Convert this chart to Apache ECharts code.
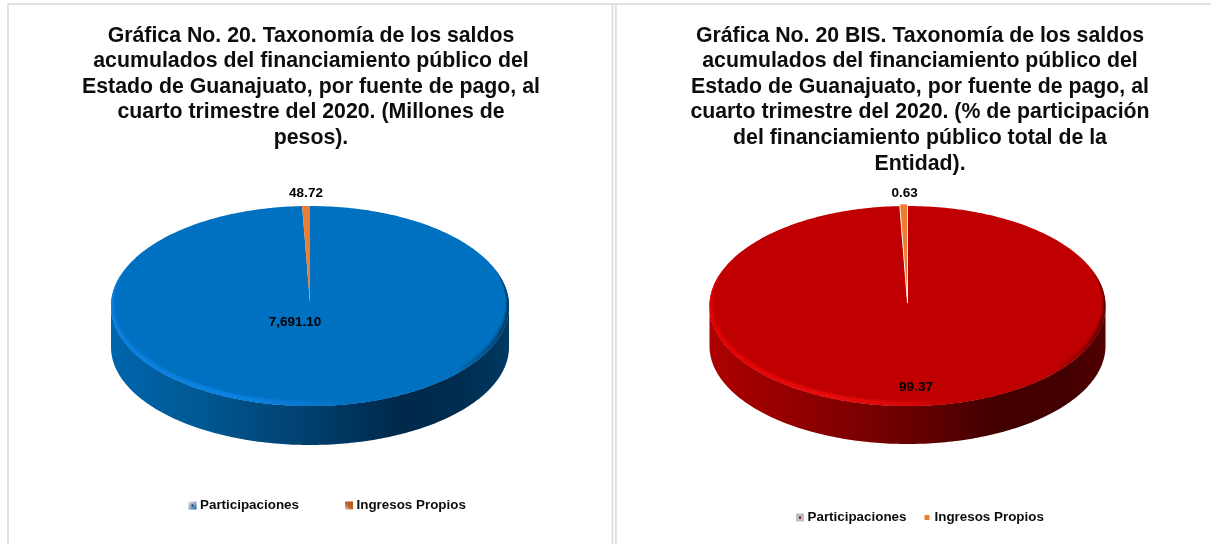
<!DOCTYPE html>
<html><head><meta charset="utf-8">
<style>html,body{margin:0;padding:0;background:#fff}#c{width:1211px;height:544px}</style>
<script src="https://cdn.jsdelivr.net/npm/echarts@6/dist/echarts.min.js"></script>
</head><body><div id="c"></div>
<script>
var categories = ['Participaciones', 'Ingresos Propios'];
var amounts = [7691.10, 48.72];
var shares = [99.37, 0.63];
var amountLabels = ['7,691.10', '48.72'];
var shareLabels = ['99.37', '0.63'];
var title1 = 'Gráfica No. 20. Taxonomía de los saldos\nacumulados del financiamiento público del\nEstado de Guanajuato, por fuente de pago, al\ncuarto trimestre del 2020. (Millones de\npesos).';
var title2 = 'Gráfica No. 20 BIS. Taxonomía de los saldos\nacumulados del financiamiento público del\nEstado de Guanajuato, por fuente de pago, al\ncuarto trimestre del 2020. (% de participación\ndel financiamiento público total de la\nEntidad).';

var FONT = '"Liberation Sans", Arial, sans-serif';
var G = echarts.graphic;
function hGrad(stops){return new G.LinearGradient(0,0,1,0,stops.map(function(s){return {offset:s[0],color:s[1]};}));}

var panels = [
 {cx:310,cy:306,rx:199,ry:100,apexY:303,depth:41,ryB:98,lift:0,top:'#0070C0',labelPos:[[295,322],[306,193]],
  values:amounts,labels:amountLabels,edge:null,
  wall:[[0,'#0066AE'],[0.25,'#00568F'],[0.5,'#003F6E'],[0.72,'#00294A'],[0.88,'#002C4F'],[1,'#003A63']],
  rim:[[0,'#0A80E0'],[0.3,'#0C84E6'],[0.5,'#0878D0'],[0.6,'#0070C0'],[0.86,'#0070C0'],[0.95,'#00508A'],[1,'#00355E']]},
 {cx:907.5,cy:306,rx:198,ry:100,apexY:305,depth:40,ryB:98,lift:2,top:'#C00000',labelPos:[[916,387],[904.7,193]],
  values:shares,labels:shareLabels,edge:'#FFFFFF',
  wall:[[0,'#AE0000'],[0.25,'#8E0000'],[0.5,'#6A0000'],[0.72,'#420000'],[0.9,'#420000'],[1,'#520000']],
  rim:[[0,'#E60000'],[0.3,'#EA0C0C'],[0.5,'#D80808'],[0.6,'#C00000'],[0.86,'#C00000'],[0.95,'#8A0000'],[1,'#5A0000']]}
];

function arc(p,cy,ry,a0,a1){ // angles in degrees, clockwise from top
  var pts=[],n=Math.max(2,Math.ceil(Math.abs(a1-a0)));
  for(var i=0;i<=n;i++){var a=(a0+(a1-a0)*i/n)*Math.PI/180;pts.push([p.cx+p.rx*Math.sin(a),cy-ry*Math.cos(a)]);}
  return pts;
}
function crescent(p,a0,a1,tx,ty){
  var outer=arc(p,p.cy,p.ry,a0,a1),inner=[],n=a1-a0;
  for(var d=n;d>=0;d--){
    var a=(a0+d)*Math.PI/180,f=Math.pow(Math.sin(Math.PI*d/n),0.6);
    inner.push([p.cx+(p.rx-tx*f)*Math.sin(a),p.cy-1.5*f-(p.ry-ty*f)*Math.cos(a)]);
  }
  return outer.concat(inner);
}
function sliceSeries(panel,idx){
  var total=panel.values[0]+panel.values[1];
  var start=idx===0?0:panel.values[0]/total*360;
  var end=idx===0?panel.values[0]/total*360:360;
  return {
    type:'custom',name:categories[idx],coordinateSystem:'none',silent:true,
    data:[[panel.values[idx]]],
    renderItem:function(params,api){
      var kids=[];
      if(idx===0){
        var lower=arc(panel,panel.cy,panel.ry,90,270);
        var lowerB=arc(panel,panel.cy+panel.depth,panel.ryB,270,90);
        kids.push({type:'polygon',shape:{points:lower.concat(lowerB)},style:{fill:hGrad(panel.wall)}});
      }
      var lift=idx===0?0:panel.lift;
      var face=[[panel.cx,panel.apexY-lift]].concat(arc(panel,panel.cy-lift,panel.ry,start,end));
      kids.push({type:'polygon',shape:{points:face},style:{
        fill:idx===0?panel.top:'#ED7D31',
        stroke:idx===1&&panel.edge?panel.edge:null,lineWidth:idx===1&&panel.edge?0.8:0}});
      if(idx===0){
        kids.push({type:'polygon',shape:{points:crescent(panel,68,292,7,4)},style:{fill:hGrad(panel.rim),opacity:0.45}});
        kids.push({type:'polygon',shape:{points:crescent(panel,72,288,4,2.5)},style:{fill:hGrad(panel.rim),opacity:0.9}});
      }
      kids.push({type:'text',x:panel.labelPos[idx][0],y:panel.labelPos[idx][1],style:{
        text:panel.labels[idx],fill:'#000',font:'bold 13.5px '+FONT,align:'center',verticalAlign:'middle'}});
      return {type:'group',children:kids};
    }
  };
}
var series=[];
panels.forEach(function(p){series.push(sliceSeries(p,0));series.push(sliceSeries(p,1));});

function titleOf(text,x){return {text:text,left:x,top:18,textAlign:'center',textStyle:{
  fontFamily:FONT,fontWeight:'bold',fontSize:21.3,lineHeight:25.6,color:'#0d0d0d'}};}

function line(x1,y1,x2,y2){return {type:'line',silent:true,z:-1,shape:{x1:x1,y1:y1,x2:x2,y2:y2},style:{stroke:'#DCDCDC',lineWidth:1.7}};}

var legendText={fontFamily:FONT,fontWeight:'bold',fontSize:13.4,color:'#0d0d0d'};
var option={
 animation:false,backgroundColor:'#fff',
 title:[titleOf(title1,306),titleOf(title2,915)],
 legend:[
  {left:183.5,top:494,itemWidth:5,itemHeight:5,itemGap:46,selectedMode:false,textStyle:legendText,
   data:[{name:categories[0],icon:'rect',itemStyle:{color:'#003F70',borderWidth:3,borderColor:new G.LinearGradient(0,0,1,1,[{offset:0,color:'#E0E0E0'},{offset:0.55,color:'#8FA6BC'},{offset:1,color:'#0F5F9E'}])}},
         {name:categories[1],icon:'rect',itemStyle:{color:'#B85A20',borderWidth:3,borderColor:new G.LinearGradient(0,1,1,0,[{offset:0,color:'#CFCFCF'},{offset:0.45,color:'#C8662A'},{offset:1,color:'#9A4E1C'}])}}]},
  {left:791,top:506,itemWidth:5,itemHeight:5,itemGap:18,selectedMode:false,textStyle:legendText,
   data:[{name:categories[0],icon:'rect',itemStyle:{color:'#7A0008',borderColor:'#BEBEBE',borderWidth:3}},
         {name:categories[1],icon:'rect',itemStyle:{color:'#ED7D31',borderWidth:0}}]}
 ],
 graphic:{elements:[
   line(7.2,4.2,1211,4.2),line(8,4.2,8,544),line(612.5,4.2,612.5,544),line(615.8,4.2,615.8,544)
 ]},
 series:series
};
echarts.init(document.getElementById('c'),null,{renderer:'canvas'}).setOption(option);
</script></body></html>
